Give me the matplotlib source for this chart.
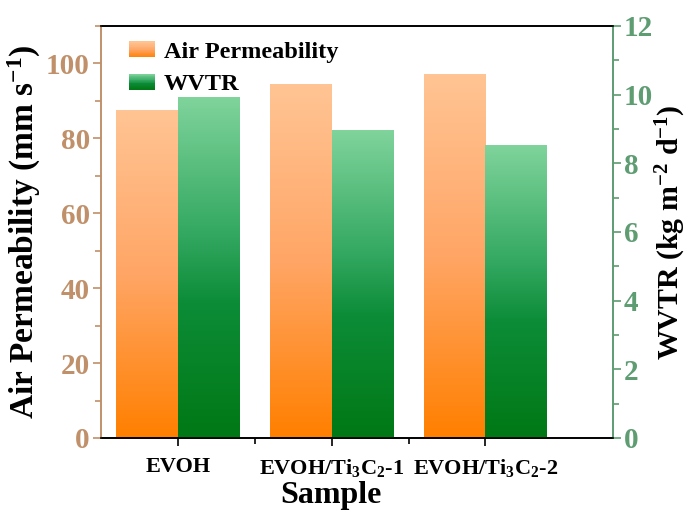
import numpy as np
import matplotlib
matplotlib.use("Agg")
import matplotlib.pyplot as plt
from matplotlib.colors import LinearSegmentedColormap
from matplotlib.patches import Rectangle
from matplotlib.legend_handler import HandlerBase
from matplotlib.ticker import MultipleLocator, FixedLocator

categories = ["EVOH", "EVOH/Ti$_3$C$_2$-1", "EVOH/Ti$_3$C$_2$-2"]
air_perm = [87.7, 94.4, 97.3]
wvtr = [9.93, 8.97, 8.53]

plt.rcParams['font.family'] = ['Liberation Serif', 'DejaVu Serif']
plt.rcParams['font.weight'] = 'bold'
plt.rcParams['mathtext.fontset'] = 'custom'
plt.rcParams['mathtext.rm'] = 'Liberation Serif:bold'
plt.rcParams['mathtext.it'] = 'Liberation Serif:bold'
plt.rcParams['mathtext.bf'] = 'Liberation Serif:bold'
plt.rcParams['mathtext.default'] = 'rm'

orange_cmap = LinearSegmentedColormap.from_list(
    "og", [(0.0, (1.0, 0.50, 0.0)), (0.5, (1.0, 0.65, 0.40)), (1.0, (1.0, 0.77, 0.58))])
green_cmap = LinearSegmentedColormap.from_list(
    "gr", [(0.0, (0.0, 0.47, 0.08)), (0.4, (0.05, 0.55, 0.22)), (0.6, (0.20, 0.66, 0.38)), (1.0, (0.50, 0.83, 0.61))])

tan = '#C0906A'
grn = '#5E9C72'

fig = plt.figure(figsize=(6.87, 5.14), dpi=100)
ax = fig.add_axes([101/687, 1-438/514, 512/687, 412/514])
ax2 = ax.twinx()

x = np.arange(len(categories))
w = 0.4
grad = np.linspace(0, 1, 256).reshape(-1, 1)

def grad_bars(axis, xs, vals, cmap):
    bars = axis.bar(xs, vals, width=w, align='edge', color='none', edgecolor='none')
    for b in bars:
        x0, y0 = b.get_x(), b.get_y()
        bw, bh = b.get_width(), b.get_height()
        im = axis.imshow(grad, cmap=cmap, origin='lower', aspect='auto',
                         extent=[x0, x0 + bw, y0, y0 + bh], zorder=2)
        im.set_clip_path(b)
    return bars

grad_bars(ax, x - w, air_perm, orange_cmap)
grad_bars(ax2, x, wvtr, green_cmap)

ax.set_xlim(-0.5, 2.83)
ax.set_ylim(0, 110)
ax2.set_ylim(0, 12)

ax.xaxis.set_major_locator(FixedLocator(x))
ax.xaxis.set_minor_locator(FixedLocator([0.5, 1.5]))
ax.set_xticks(x)
ax.set_xticklabels(categories, fontsize=16, fontweight='bold')
ax.tick_params(axis='x', which='major', length=6, width=1.2, direction='out', pad=8)
ax.tick_params(axis='x', which='minor', length=4, width=1.2, direction='out')

ax.yaxis.set_major_locator(MultipleLocator(20))
ax.yaxis.set_minor_locator(MultipleLocator(10))
ax.tick_params(axis='y', which='major', length=6, width=1.2, colors=tan, labelsize=21, pad=2)
ax.tick_params(axis='y', which='minor', length=4, width=1.2, colors=tan)

ax2.yaxis.set_major_locator(MultipleLocator(2))
ax2.yaxis.set_minor_locator(MultipleLocator(1))
ax2.tick_params(axis='y', which='major', length=6, width=1.2, colors=grn, labelsize=21, pad=2)
ax2.tick_params(axis='y', which='minor', length=4, width=1.2, colors=grn)

for a in (ax, ax2):
    for lab in a.get_yticklabels():
        lab.set_fontweight('bold')
    a.spines['left'].set_color(tan)
    a.spines['right'].set_color(grn)
    a.spines['top'].set_color('black')
    a.spines['bottom'].set_color('black')
    for s in a.spines.values():
        s.set_linewidth(1.2)

ax.set_ylabel("Air Permeability (mm s$^{-1}$)", fontsize=24, fontweight='bold', labelpad=2)
ax2.set_ylabel("WVTR (kg m$^{-2}$ d$^{-1}$)", fontsize=21.5, fontweight='bold', labelpad=0)
ax.set_xlabel("Sample", fontsize=23, fontweight='bold')
ax.xaxis.set_label_coords(0.449, -0.105)


class GradHandler(HandlerBase):
    def __init__(self, cmap):
        super().__init__()
        self.cmap = cmap

    def create_artists(self, legend, orig_handle, xdescent, ydescent, width, height, fontsize, trans):
        arts = []
        n = 20
        for i in range(n):
            r = Rectangle((-xdescent, -ydescent + height * i / n), width, height / n + 0.3,
                          facecolor=self.cmap((i + 0.5) / n), edgecolor='none', transform=trans)
            arts.append(r)
        return arts


h1 = Rectangle((0, 0), 1, 1)
h2 = Rectangle((0, 0), 1, 1)
leg = ax.legend([h1, h2], ["Air Permeability", "WVTR"],
                handler_map={h1: GradHandler(orange_cmap), h2: GradHandler(green_cmap)},
                loc='upper left', bbox_to_anchor=(0.035, 0.985), frameon=False,
                prop={'family': 'Liberation Serif', 'weight': 'bold', 'size': 17.5},
                handlelength=1.1, handleheight=0.6, handletextpad=0.35, labelspacing=0.45,
                borderaxespad=0.2, borderpad=0.2)
leg.set_zorder(10)

fig.savefig("out.png", dpi=100)
